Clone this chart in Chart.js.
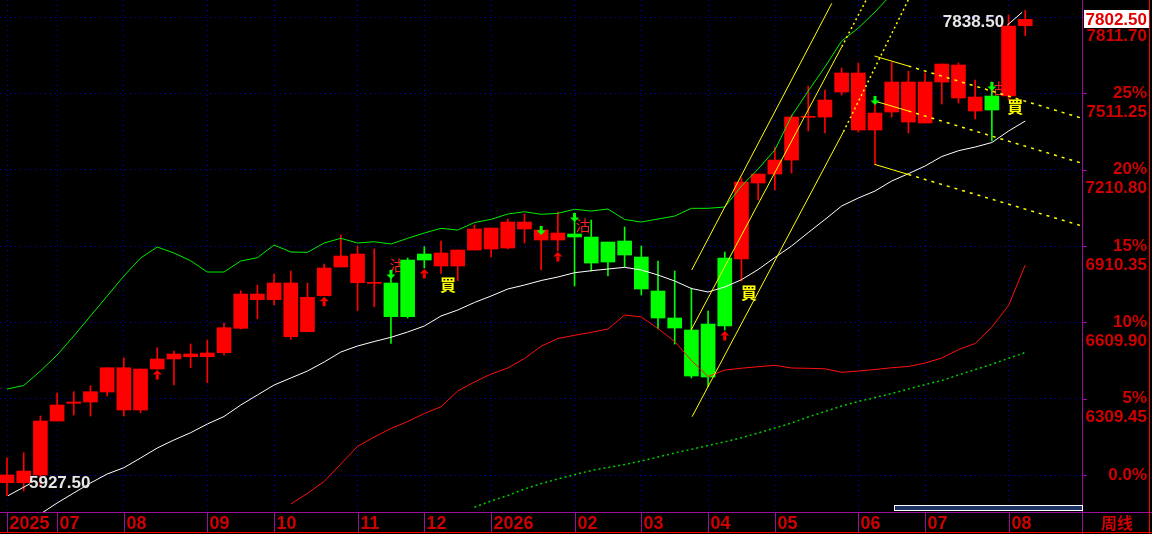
<!DOCTYPE html>
<html>
<head>
<meta charset="utf-8">
<script src="https://cdn.jsdelivr.net/npm/chart.js@4.4.1/dist/chart.umd.min.js"></script>
<style>
  html, body { margin: 0; padding: 0; background: #000; }
  #wrap { width: 1152px; height: 534px; }
</style>
</head>
<body>
<div id="wrap"><canvas id="kline"></canvas></div>
<script>
// 주봉 데이터 (2025.06 ~ 2026.08)
var opens = [5978.7, 5978.7, 6009.0, 6221.5, 6291.2, 6296.4, 6335.7, 6264.8, 6264.8, 6426.2,
  6465.6, 6474.6, 6474.6, 6490.4, 6586.4, 6699.0, 6699.0, 6553.3, 6573.0, 6714.7,
  6827.7, 6765.9, 6763.5, 6764.7, 6855.2, 6878.9, 6831.6, 6831.6, 6894.6, 6898.5,
  6902.5, 6977.3, 6934.0, 6934.0, 6957.6, 6945.8, 6926.1, 6930.0, 6867.0, 6733.2,
  6627.0, 6579.7, 6603.3, 6863.1, 6859.2, 7158.3, 7193.7, 7248.8, 7416.9, 7418.1,
  7516.5, 7366.9, 7366.9, 7437.8, 7398.4, 7394.5, 7555.8, 7492.9, 7441.7, 7500.7,
  7500.7, 7777.4];
var highs = [6077.1, 6096.8, 6241.2, 6331.8, 6336.9, 6360.5, 6431.3, 6470.7, 6426.2, 6510.1,
  6497.1, 6524.6, 6540.4, 6607.3, 6734.4, 6756.8, 6800.1, 6811.9, 6764.7, 6839.5,
  6953.6, 6910.3, 6898.5, 6815.9, 6863.1, 6907.6, 6930.0, 6894.6, 6993.0, 6981.2,
  7016.6, 7036.3, 6989.1, 7044.2, 7040.2, 7012.7, 6926.1, 6985.1, 6910.3, 6851.3,
  6811.9, 6745.0, 6654.5, 6886.7, 7178.0, 7193.7, 7300.0, 7426.0, 7540.1, 7524.4,
  7611.0, 7630.6, 7500.7, 7634.6, 7599.1, 7591.3, 7626.7, 7630.6, 7563.7, 7555.8,
  7819.6, 7838.5];
var lows = [5927.5, 5946.0, 5962.9, 6221.5, 6245.2, 6241.2, 6319.9, 6241.2, 6254.2, 6426.2,
  6363.2, 6431.3, 6372.3, 6481.3, 6583.7, 6624.2, 6678.1, 6543.1, 6573.0, 6714.7,
  6827.7, 6655.7, 6671.4, 6527.4, 6627.0, 6823.8, 6802.9, 6773.8, 6894.6, 6867.0,
  6898.5, 6922.2, 6815.9, 6890.7, 6752.9, 6811.9, 6792.3, 6827.7, 6717.5, 6583.7,
  6524.6, 6390.8, 6356.6, 6579.7, 6772.6, 7091.4, 7130.8, 7197.7, 7363.0, 7355.1,
  7504.7, 7359.0, 7229.2, 7418.1, 7355.1, 7394.5, 7469.3, 7473.2, 7410.2, 7323.6,
  7485.0, 7738.1];
var closes = [6009.0, 6024.7, 6221.5, 6284.5, 6296.4, 6336.9, 6431.3, 6431.3, 6426.2, 6465.6,
  6485.3, 6485.3, 6489.2, 6588.8, 6721.4, 6721.4, 6764.7, 6764.7, 6708.4, 6823.8,
  6871.0, 6878.9, 6765.9, 6632.1, 6632.1, 6855.2, 6882.8, 6894.6, 6977.3, 6981.2,
  7004.8, 7004.8, 6973.3, 6961.5, 6945.8, 6843.4, 6847.4, 6874.9, 6741.1, 6627.0,
  6587.6, 6398.7, 6394.7, 6595.5, 7162.2, 7193.7, 7248.8, 7418.1, 7418.1, 7485.0,
  7591.3, 7591.3, 7433.8, 7555.8, 7555.8, 7555.8, 7626.7, 7622.8, 7496.8, 7445.6,
  7776.3, 7802.5];

// 밴드 지표 (상단 / 중간 / 하단 / 장기선)
var upperBand = [6347.5, 6361.3, 6418.3, 6481.3, 6556.1, 6634.8, 6713.5, 6792.3, 6863.1, 6906.4,
  6882.8, 6852.5, 6808.0, 6808.0, 6851.3, 6864.3, 6914.3, 6886.7, 6885.5, 6922.2,
  6940.7, 6922.2, 6927.3, 6918.2, 6940.7, 6961.5, 6980.0, 6973.3, 7002.8, 7015.4,
  7036.3, 7045.3, 7035.1, 7039.1, 7054.8, 7048.1, 7056.0, 7014.6, 7004.8, 7016.6,
  7028.4, 7058.7, 7058.7, 7063.8, 7146.5, 7213.4, 7288.2, 7422.0, 7520.4, 7614.9,
  7717.2, 7768.4, 7831.4, 7902.2];
var midBand = [null, null, 5855.5, 5898.8, 5938.2, 5977.5, 6012.9, 6037.7, 6075.9, 6115.3,
  6146.8, 6175.5, 6209.7, 6239.3, 6284.5, 6323.9, 6363.2, 6390.8, 6418.3, 6453.8,
  6493.1, 6516.7, 6534.5, 6551.0, 6571.8, 6595.5, 6634.8, 6658.4, 6688.0, 6713.5,
  6741.1, 6756.8, 6774.6, 6788.3, 6805.3, 6813.1, 6819.8, 6826.5, 6815.9, 6796.2,
  6772.6, 6743.1, 6729.3, 6749.0, 6777.7, 6817.8, 6865.1, 6910.3, 6963.1, 7014.6,
  7067.8, 7099.3, 7126.8, 7166.2, 7194.9, 7225.2, 7262.6, 7285.4, 7300.0, 7317.7,
  7363.0, 7402.3];
var lowerBand = [null, null, null, null, null, null, null, null, null, null,
  null, null, null, null, null, null, null, 5894.9, 5937.0, 5983.8,
  6052.3, 6121.6, 6158.6, 6192.0, 6219.6, 6251.1, 6277.8, 6339.6, 6375.0, 6406.5,
  6430.2, 6467.5, 6515.6, 6546.3, 6558.9, 6570.7, 6583.7, 6638.8, 6630.9, 6585.6,
  6534.5, 6459.7, 6396.7, 6422.3, 6429.4, 6435.3, 6440.8, 6430.2, 6429.0, 6427.0,
  6413.2, 6418.3, 6424.2, 6431.3, 6436.1, 6449.8, 6469.5, 6502.6, 6526.6, 6591.5,
  6676.2, 6835.6];
var slowLine = [null, null, null, null, null, null, null, null, null, null,
  null, null, null, null, null, null, null, null, null, null,
  null, null, null, null, null, null, null, null, 5882.0, 5906.7,
  5928.3, 5953.9, 5975.5, 5993.3, 6010.2, 6026.7, 6038.5, 6050.3, 6064.1, 6079.8,
  6095.6, 6110.2, 6125.1, 6139.7, 6155.8, 6174.3, 6194.0, 6213.7, 6237.3, 6258.9,
  6280.6, 6298.3, 6314.0, 6329.8, 6347.5, 6365.2, 6381.0, 6402.6, 6424.2, 6444.7,
  6468.3, 6491.2];

// 추세선 [x(봉 인덱스), 가격]
var trendSolid = [
  [[41.02, 6815.9], [49.41, 7865.6]],
  [[40.98, 6579.7], [50.01, 7694.8]],
  [[41.04, 6238.5], [50.11, 7360.2]],
  [[51.97, 7658.2], [54.0, 7618.8]],
  [[51.97, 7481.1], [54.0, 7441.7]],
  [[51.97, 7231.9], [54.0, 7191.8]]
];
var trendDotted = [
  [[50.01, 7694.8], [51.47, 7878.6]],
  [[50.11, 7360.2], [53.99, 7878.6]]
];
var trendDashed = [
  [[54.0, 7618.8], [64.41, 7413.0]],
  [[54.0, 7441.7], [64.41, 7235.9]],
  [[54.0, 7191.8], [64.41, 6989.1]]
];

// 신호
var upArrows = [9, 19, 25, 33, 43];
var downArrows = [23, 32, 34, 52, 59];
var buyMarks = [[26.42, 6758.8], [44.45, 6724.2], [60.4, 7459.4]];
var sellMarks = [[23.37, 6835.6], [34.5, 6991.1], [59.3, 7532.2]];

// 축
var tickIdx = [0, 3, 7, 12, 16, 21, 25, 29, 34, 38, 42, 46, 51, 55, 60];
var tickText = ["2025", "07", "08", "09", "10", "11", "12", "2026", "02", "03", "04", "05", "06", "07", "08"];
var basePrice = 6009;
var pctSteps = [0, 5, 10, 15, 20, 25, 30];

var RED = "#ff0000";
var GREEN = "#00ff00";

function pts(arr) {
  var out = [];
  arr.forEach(function (v, i) {
    if (v !== null) out.push({ x: i, y: v });
  });
  return out;
}

function seg(p) {
  return p.map(function (q) { return { x: q[0], y: q[1] }; });
}

var candleColors = closes.map(function (c, i) {
  return c >= opens[i] ? RED : GREEN;
});

var datasets = [
  {
    type: "bar",
    data: lows.map(function (l, i) { return { x: i, y: [l, highs[i]] }; }),
    backgroundColor: candleColors,
    barThickness: 1,
    grouped: false,
    order: 5,
  },
  {
    type: "bar",
    data: opens.map(function (o, i) { return { x: i, y: [o, closes[i]] }; }),
    backgroundColor: candleColors,
    barThickness: 14,
    minBarLength: 1,
    grouped: false,
    order: 4,
  },
  { type: "line", data: pts(lowerBand), borderColor: "#ff1010", borderWidth: 1, pointRadius: 0, order: 3 },
  { type: "line", data: pts(slowLine), borderColor: "#00d000", borderWidth: 1.5, borderDash: [2, 3], pointRadius: 0, order: 3 },
  { type: "line", data: pts(upperBand), borderColor: "#00ee00", borderWidth: 1, pointRadius: 0, order: 3 },
  { type: "line", data: pts(midBand), borderColor: "#ffffff", borderWidth: 1, pointRadius: 0, order: 2 },
];

trendSolid.forEach(function (t) {
  datasets.push({ type: "line", data: seg(t), borderColor: "#ffff00", borderWidth: 1, pointRadius: 0, order: 1 });
});
trendDotted.forEach(function (t) {
  datasets.push({ type: "line", data: seg(t), borderColor: "#ffff00", borderWidth: 1.5, borderDash: [2, 3], pointRadius: 0, order: 1 });
});
trendDashed.forEach(function (t) {
  datasets.push({ type: "line", data: seg(t), borderColor: "#ffff00", borderWidth: 1.5, borderDash: [3, 5], pointRadius: 0, order: 1 });
});

function upArrow(c, x, y) {
  c.beginPath();
  c.moveTo(x, y);
  c.lineTo(x + 4.5, y + 4.5);
  c.lineTo(x - 4.5, y + 4.5);
  c.closePath();
  c.fill();
  c.fillRect(x - 1.5, y + 4.5, 3, 5);
}

function downArrow(c, x, y) {
  c.fillRect(x - 1.5, y, 3, 5);
  c.beginPath();
  c.moveTo(x - 4.5, y + 4.5);
  c.lineTo(x + 4.5, y + 4.5);
  c.lineTo(x, y + 9);
  c.closePath();
  c.fill();
}

var deco = {
  id: "deco",
  beforeDraw: function (chart) {
    var c = chart.ctx;
    c.save();
    c.fillStyle = "#000";
    c.fillRect(0, 0, chart.width, chart.height);
    c.restore();
  },
  // 沽 표시 (봉 뒤)
  beforeDatasetsDraw: function (chart) {
    var c = chart.ctx, xs = chart.scales.x, ys = chart.scales.y;
    c.save();
    c.font = '15px "Noto Sans CJK TC"';
    c.fillStyle = "#ff2020";
    c.textAlign = "center";
    c.textBaseline = "middle";
    sellMarks.forEach(function (m) {
      c.fillText("沽", xs.getPixelForValue(m[0]), ys.getPixelForValue(m[1]));
    });
    c.restore();
  },
  afterDatasetsDraw: function (chart) {
    var c = chart.ctx, xs = chart.scales.x, ys = chart.scales.y;
    c.save();
    c.fillStyle = RED;
    upArrows.forEach(function (i) {
      upArrow(c, xs.getPixelForValue(i), ys.getPixelForValue(lows[i]) + 1);
    });
    c.fillStyle = GREEN;
    downArrows.forEach(function (i) {
      downArrow(c, xs.getPixelForValue(i), ys.getPixelForValue(highs[i]));
    });

    // 買 표시
    c.font = 'bold 16px "Noto Sans CJK TC"';
    c.fillStyle = "#ffff00";
    c.textAlign = "center";
    c.textBaseline = "middle";
    buyMarks.forEach(function (m) {
      c.fillText("買", xs.getPixelForValue(m[0]), ys.getPixelForValue(m[1]));
    });

    // 최고가 / 최저가
    var hi = 0, lo = 0;
    highs.forEach(function (h, i) { if (h > highs[hi]) hi = i; });
    lows.forEach(function (l, i) { if (l < lows[lo]) lo = i; });
    var hx = xs.getPixelForValue(hi), hy = ys.getPixelForValue(highs[hi]);
    var lx = xs.getPixelForValue(lo), ly = ys.getPixelForValue(lows[lo]);
    c.strokeStyle = "#ffffff";
    c.lineWidth = 1;
    c.beginPath();
    c.moveTo(hx - 3, hy + 2);
    c.lineTo(hx - 18, hy + 15);
    c.moveTo(lx + 1, ly);
    c.lineTo(lx + 23, ly - 12);
    c.stroke();
    c.font = 'bold 17px "Liberation Sans"';
    c.fillStyle = "#e6e6e6";
    c.textAlign = "right";
    c.fillText(highs[hi].toFixed(2), hx - 21, hy + 12);
    c.textAlign = "left";
    c.fillText(lows[lo].toFixed(2), lx + 22, ly - 12);
    c.restore();
  },
  afterDraw: function (chart) {
    var c = chart.ctx, xs = chart.scales.x, ys = chart.scales.y, a = chart.chartArea;
    var W = chart.width, H = chart.height;
    c.save();

    // 테두리
    c.lineWidth = 1;
    c.strokeStyle = "#9a109a";
    c.beginPath();
    c.moveTo(0, a.bottom + 0.5);
    c.lineTo(W, a.bottom + 0.5);
    c.moveTo(a.right + 0.5, 0);
    c.lineTo(a.right + 0.5, H);
    c.stroke();
    c.strokeStyle = "#ff0000";
    c.beginPath();
    c.moveTo(0, H - 1.5);
    c.lineTo(W, H - 1.5);
    c.moveTo(W - 2.5, 0);
    c.lineTo(W - 2.5, H);
    c.stroke();

    // 오른쪽 축 라벨
    c.font = 'bold 17px "Liberation Sans"';
    c.fillStyle = "#d00000";
    c.textAlign = "right";
    c.textBaseline = "middle";
    pctSteps.forEach(function (p) {
      var v = Math.round(basePrice * (1 + p / 100) * 100) / 100;
      var y = ys.getPixelForValue(v);
      c.fillText(p === 0 ? "0.0%" : p + "%", W - 5, y);
      if (p > 0) c.fillText(v.toFixed(2), W - 5, y + 19);
      c.strokeStyle = "#9a109a";
      c.beginPath();
      c.moveTo(a.right, Math.round(y) + 0.5);
      c.lineTo(a.right + 5, Math.round(y) + 0.5);
      c.stroke();
    });

    // 현재가 박스
    var last = closes[closes.length - 1];
    var py = ys.getPixelForValue(last);
    c.fillStyle = "#ffffff";
    c.fillRect(a.right + 2, Math.round(py) - 9, W - a.right - 5, 18);
    c.fillStyle = "#e00000";
    c.fillText(last.toFixed(2), W - 5, py + 1);

    // 아래 축 라벨
    c.font = 'bold 18px "Liberation Sans"';
    c.textAlign = "left";
    tickIdx.forEach(function (idx, k) {
      var x = Math.round(xs.getPixelForValue(idx)) + 0.5;
      c.strokeStyle = "#9a109a";
      c.beginPath();
      c.moveTo(x, a.bottom);
      c.lineTo(x, H - 2);
      c.stroke();
      c.fillStyle = "#d00000";
      c.fillText(tickText[k], x + 2, a.bottom + 12);
    });
    c.font = 'bold 16px "Noto Sans CJK SC"';
    c.textAlign = "center";
    c.fillText("周线", (a.right + W) / 2, a.bottom + 11);

    // 스크롤 바
    c.fillStyle = "#1e3264";
    c.fillRect(894, a.bottom - 6, a.right - 894, 4);
    c.strokeStyle = "#ffffff";
    c.strokeRect(894.5, a.bottom - 6.5, a.right - 894, 5);
    c.restore();
  },
};

new Chart(document.getElementById("kline"), {
  type: "bar",
  data: { datasets: datasets },
  options: {
    responsive: true,
    maintainAspectRatio: false,
    animation: false,
    events: [],
    layout: { padding: 0 },
    plugins: { legend: { display: false }, tooltip: { enabled: false } },
    scales: {
      x: {
        type: "linear",
        min: -0.42,
        max: 64.4,
        offset: false,
        afterBuildTicks: function (s) {
          s.ticks = tickIdx.map(function (v) { return { value: v }; });
        },
        afterFit: function (s) { s.height = 22; },
        ticks: { display: false },
        grid: { color: "#0000d0", drawTicks: false, offset: false },
        border: { display: false, dash: [1, 4] },
      },
      y: {
        type: "linear",
        position: "right",
        min: 5863.4,
        max: 7878.7,
        afterBuildTicks: function (s) {
          s.ticks = pctSteps.map(function (p) { return { value: basePrice * (1 + p / 100) }; });
        },
        afterFit: function (s) { s.width = 70; },
        ticks: { display: false },
        grid: { color: "#0000d0", drawTicks: false },
        border: { display: false, dash: [1, 4] },
      },
    },
  },
  plugins: [deco],
});
</script>
</body>
</html>
